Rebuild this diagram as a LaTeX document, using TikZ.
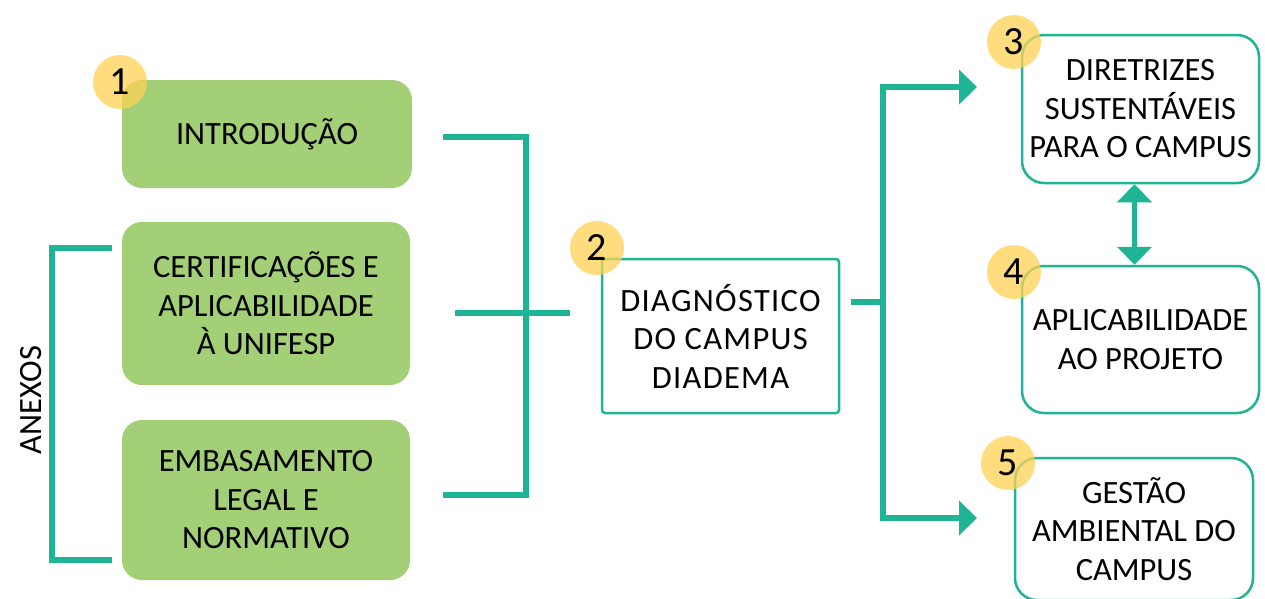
\documentclass[tikz,border=0pt]{standalone}
\usepackage{fontspec}
\setmainfont{Carlito}
\usetikzlibrary{arrows.meta,calc}
\definecolor{teal1}{RGB}{31,180,150}
\definecolor{lgreen}{RGB}{163,208,118}
\definecolor{ycirc}{RGB}{255,210,85}
\begin{document}
\begin{tikzpicture}[x=1pt,y=-1pt,
  txt/.style={font=\fontsize{32.5}{38.5}\selectfont, align=center, inner sep=0pt},
  greenbox/.style={txt, fill=lgreen, rounded corners=20pt},
  whitebox/.style={txt, draw=teal1, line width=2.5pt, fill=white, rounded corners=22pt},
  numcirc/.style={circle, fill=ycirc, fill opacity=0.75, text opacity=1, minimum size=54pt, inner sep=0pt, font=\fontsize{40}{40}\selectfont},
  conn/.style={draw=teal1, line width=5.5pt},
  arr/.style={conn, -{Triangle[length=18pt,width=34pt]}},
  dblarr/.style={conn, {Triangle[length=18pt,width=34pt]}-{Triangle[length=18pt,width=34pt]}}
]
\useasboundingbox (0,0) rectangle (1265,598);
\clip (0,0) rectangle (1265,598);
\fill[white] (0,0) rectangle (1265,598);

% green boxes
\node[greenbox, minimum width=290pt, minimum height=108pt] (intro) at (267,134) {INTRODUÇÃO};
\node[greenbox, minimum width=288pt, minimum height=163pt] (cert) at (266,303.5) {CERTIFICAÇÕES E\\APLICABILIDADE\\À UNIFESP};
\node[greenbox, minimum width=288pt, minimum height=160pt] (emb) at (266,500) {EMBASAMENTO\\LEGAL E\\NORMATIVO};

% white boxes
\node[whitebox, rounded corners=3pt, minimum width=237pt, minimum height=154pt,
      font=\fontsize{32.5}{38.5}\selectfont\addfontfeature{LetterSpace=4}] (diag) at (720.5,336) {DIAGNÓSTICO\\DO CAMPUS\\DIADEMA};
\node[whitebox, minimum width=237pt, minimum height=148pt] (b3) at (1140.5,109) {DIRETRIZES\\SUSTENTÁVEIS\\PARA O CAMPUS};
\node[whitebox, minimum width=237pt, minimum height=147pt] (b4) at (1140.5,339.5) {APLICABILIDADE\\AO PROJETO};
\node[whitebox, minimum width=238pt, minimum height=142pt] (b5) at (1134,529) {GESTÃO\\AMBIENTAL DO\\CAMPUS};

% ANEXOS label
\node[txt, rotate=90] (anexos) at (31,400) {ANEXOS};

% number circles
\node[numcirc] (c1) at (120,82) {1};
\node[numcirc] (c2) at (597,248) {2};
\node[numcirc] (c3) at (1014,42) {3};
\node[numcirc] (c4) at (1014,272) {4};
\node[numcirc] (c5) at (1008,463) {5};

% left bracket (ANEXOS)
\coordinate (l1) at (112,248);
\coordinate (l2) at (52,248);
\coordinate (l3) at (52,560);
\coordinate (l4) at (112,560);
\draw[conn] (l1) -- (l2) -- (l3) -- (l4);

% middle bracket
\coordinate (m1) at (443,137);
\coordinate (m2) at (526,137);
\coordinate (m3) at (526,495);
\coordinate (m4) at (443,495);
\coordinate (m5) at (455,313);
\coordinate (m6) at (570,313);
\draw[conn] (m1) -- (m2) -- (m3) -- (m4);
\draw[conn] (m5) -- (m6);

% right fork
\coordinate (r0) at (851,302);
\coordinate (r1) at (883,302);
\coordinate (a3) at (977,87);
\coordinate (a5) at (977,518);
\draw[conn] (r0) -- (r1);
\draw[arr] (r1) |- (a3);
\draw[arr] (r1) |- (a5);

% double arrow 3 <-> 4
\draw[dblarr] ([xshift=-6pt]b3.south) -- ([xshift=-6pt]b4.north);
\end{tikzpicture}
\end{document}
